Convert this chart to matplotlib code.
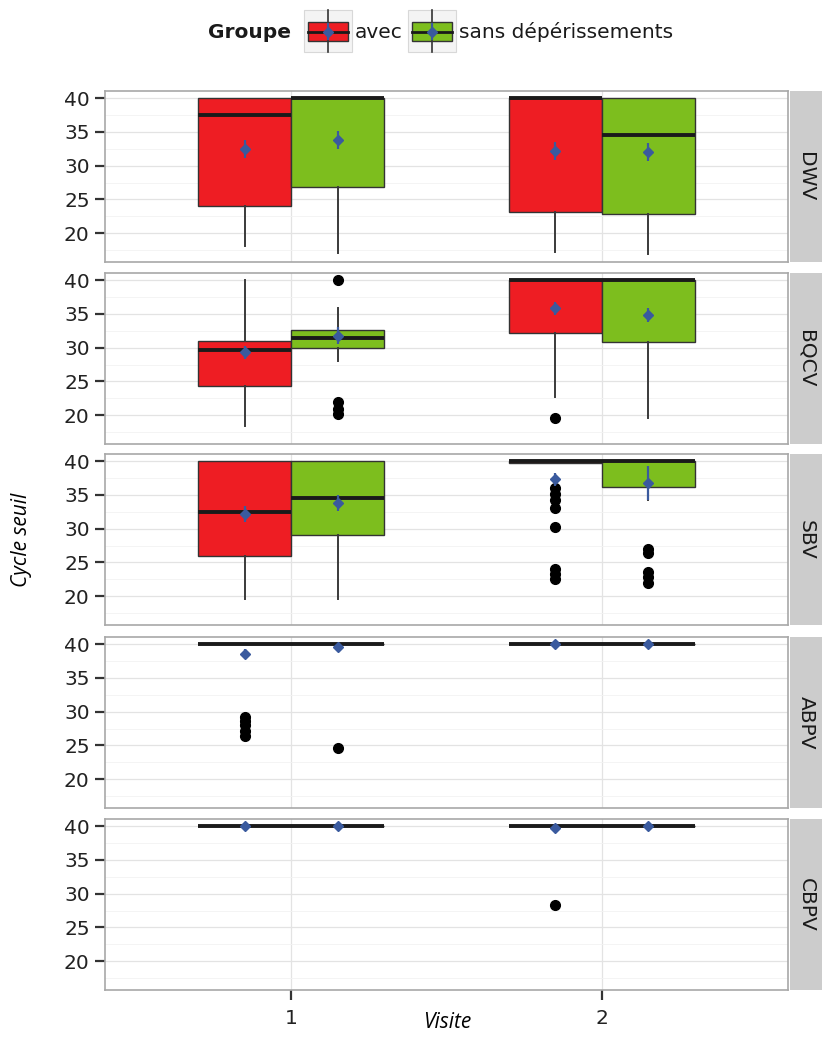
import matplotlib
matplotlib.use("Agg")
import matplotlib.pyplot as plt
from matplotlib.patches import Rectangle

# ---------------- data ----------------
viruses = ["DWV", "BQCV", "SBV", "ABPV", "CBPV"]
groups = ["avec", "sans dépérissements"]
visits = [1, 2]
# order in each list: (visit1, avec), (visit1, sans), (visit2, avec), (visit2, sans)
q1 = {
    "DWV":  [24.1, 26.8, 23.2, 22.8],
    "BQCV": [24.4, 29.9, 32.1, 30.9],
    "SBV":  [26.0, 29.0, 39.7, 36.1],
    "ABPV": [40.0, 40.0, 40.0, 40.0],
    "CBPV": [40.0, 40.0, 40.0, 40.0],
}
median = {
    "DWV":  [37.5, 40.0, 40.0, 34.6],
    "BQCV": [29.6, 31.5, 40.0, 40.0],
    "SBV":  [32.5, 34.5, 40.0, 40.0],
    "ABPV": [40.0, 40.0, 40.0, 40.0],
    "CBPV": [40.0, 40.0, 40.0, 40.0],
}
q3 = {
    "DWV":  [40.0, 40.0, 40.0, 40.0],
    "BQCV": [31.0, 32.6, 40.0, 40.0],
    "SBV":  [40.0, 40.0, 40.0, 40.0],
    "ABPV": [40.0, 40.0, 40.0, 40.0],
    "CBPV": [40.0, 40.0, 40.0, 40.0],
}
whislo = {
    "DWV":  [18.1, 17.1, 17.2, 16.9],
    "BQCV": [18.4, 28.1, 22.7, 19.6],
    "SBV":  [19.6, 19.6, 39.7, 34.2],
    "ABPV": [40.0, 40.0, 40.0, 40.0],
    "CBPV": [40.0, 40.0, 40.0, 40.0],
}
whishi = {
    "DWV":  [40.0, 40.0, 40.0, 40.0],
    "BQCV": [40.0, 35.8, 40.0, 40.0],
    "SBV":  [40.0, 40.0, 40.0, 40.0],
    "ABPV": [40.0, 40.0, 40.0, 40.0],
    "CBPV": [40.0, 40.0, 40.0, 40.0],
}
fliers = {
    "DWV":  [[], [], [], []],
    "BQCV": [[], [40.0, 22.0, 21.0, 20.2], [19.6], []],
    "SBV":  [[], [], [36.0, 35.2, 34.3, 33.1, 30.2, 24.1, 23.3, 22.6],
             [27.0, 26.4, 23.6, 22.8, 21.9]],
    "ABPV": [[29.2, 28.6, 28.0, 27.2, 26.4], [24.6], [], []],
    "CBPV": [[], [], [28.4], []],
}
means = {
    "DWV":  [32.5, 33.8, 32.2, 32.0],
    "BQCV": [29.3, 31.8, 35.8, 34.8],
    "SBV":  [32.2, 33.8, 37.3, 36.8],
    "ABPV": [38.6, 39.6, 40.0, 40.0],
    "CBPV": [40.0, 40.0, 39.7, 40.0],
}
sem = {
    "DWV":  [1.3, 1.3, 1.3, 1.3],
    "BQCV": [1.0, 1.2, 1.0, 1.0],
    "SBV":  [1.2, 1.2, 1.0, 2.5],
    "ABPV": [0.7, 0.3, 0.1, 0.1],
    "CBPV": [0.1, 0.1, 0.3, 0.1],
}
yticks = [20, 25, 30, 35, 40]
xticklabels = ["1", "2"]

# ---------------- style ----------------
colors = ["#EE1D23", "#7DBE1E"]
mean_color = "#3A5A9E"
plt.rcParams["font.family"] = ["DejaVu Sans"]
FS = 14.5

W, H = 824, 1037
fig = plt.figure(figsize=(W / 100, H / 100), dpi=100)

pl, pr = 105, 788
tops = [91, 273, 454, 637, 819]
ph = 171
width = 0.30
offsets = [-0.15, 0.15]

positions = []
for v in visits:
    for o in offsets:
        positions.append(v + o)

for i, vir in enumerate(viruses):
    top = tops[i]
    ax = fig.add_axes([pl / W, 1 - (top + ph) / H, (pr - pl) / W, ph / H])
    stats = []
    for k in range(4):
        stats.append(dict(med=median[vir][k], q1=q1[vir][k], q3=q3[vir][k],
                          whislo=whislo[vir][k], whishi=whishi[vir][k],
                          fliers=fliers[vir][k]))
    bp = ax.bxp(stats, positions=positions, widths=width, patch_artist=True,
                showcaps=False, manage_ticks=False,
                boxprops=dict(edgecolor="#333333", linewidth=1.0),
                medianprops=dict(color="#1a1a1a", linewidth=2.8,
                                 solid_capstyle="butt"),
                whiskerprops=dict(color="#3a3a3a", linewidth=1.4),
                flierprops=dict(marker="o", markerfacecolor="black",
                                markeredgecolor="black", markersize=7))
    for k, patch in enumerate(bp["boxes"]):
        patch.set_facecolor(colors[k % 2])
        patch.set_zorder(2)
    for m in bp["medians"]:
        m.set_zorder(3)
    ax.errorbar(positions, means[vir], yerr=sem[vir], fmt="D",
                color=mean_color, ms=5, elinewidth=1.6, capsize=0, zorder=5)

    ax.set_xlim(0.4, 2.6)
    ax.set_ylim(15.75, 41.05)
    ax.set_yticks(yticks)
    ax.set_yticks([17.5, 22.5, 27.5, 32.5, 37.5], minor=True)
    ax.set_xticks([1, 2])
    ax.set_axisbelow(True)
    ax.grid(True, which="major", color="#E3E3E3", linewidth=0.9)
    ax.grid(True, which="minor", axis="y", color="#F2F2F2", linewidth=0.6)
    ax.tick_params(axis="y", which="major", labelsize=FS, length=7,
                   width=1.6, color="#333333", labelcolor="#222222", pad=4)
    ax.tick_params(axis="y", which="minor", length=0)
    if i < len(viruses) - 1:
        ax.tick_params(axis="x", bottom=False, labelbottom=False)
    else:
        ax.set_xticklabels(xticklabels)
        ax.tick_params(axis="x", labelsize=FS, length=7, width=1.6,
                       color="#333333", labelcolor="#222222", pad=7)
    for sp in ax.spines.values():
        sp.set_color("#A8A8A8")
        sp.set_linewidth(1.2)

    sax = fig.add_axes([790 / W, 1 - (top + ph) / H, 32 / W, ph / H])
    sax.set_facecolor("#CCCCCC")
    sax.set_xticks([])
    sax.set_yticks([])
    for sp in sax.spines.values():
        sp.set_visible(False)
    sax.text(0.5, 0.5, vir, rotation=270, ha="center", va="center",
             fontsize=FS, color="#1a1a1a", transform=sax.transAxes)

# axis titles
fig.text(22 / W, 1 - 540 / H, "Cycle seuil", rotation=90, ha="center",
         va="center", fontsize=15, style="italic", family="Open Sans")
fig.text(447 / W, 1 - 1022 / H, "Visite", ha="center", va="center",
         fontsize=15, style="italic", family="Open Sans")

# legend
lax = fig.add_axes([0, 0, 1, 1], zorder=10)
lax.set_xlim(0, W)
lax.set_ylim(H, 0)
lax.axis("off")
lax.text(250, 32, "Groupe", ha="center", va="center", fontsize=FS,
         fontweight="bold", color="#1a1a1a")
keys = [(328, groups[0], 355), (432, groups[1], 459)]
for (kc, lab, tx), col in zip(keys, colors):
    lax.add_patch(Rectangle((kc - 24, 10), 48, 42, facecolor="#F4F4F4",
                            edgecolor="#D8D8D8", lw=0.8))
    lax.plot([kc, kc], [10, 52], color="#333333", lw=1.2)
    lax.add_patch(Rectangle((kc - 20, 22), 40, 19, facecolor=col,
                            edgecolor="#333333", lw=1.0))
    lax.plot([kc - 20, kc + 20], [31.5, 31.5], color="#1a1a1a", lw=2.0)
    lax.plot([kc, kc], [24, 39], color=mean_color, lw=1.6)
    lax.plot([kc], [31.5], marker="D", color=mean_color, ms=5)
    lax.text(tx, 32, lab, ha="left", va="center", fontsize=FS,
             color="#1a1a1a")

fig.savefig("out.png", dpi=100)
